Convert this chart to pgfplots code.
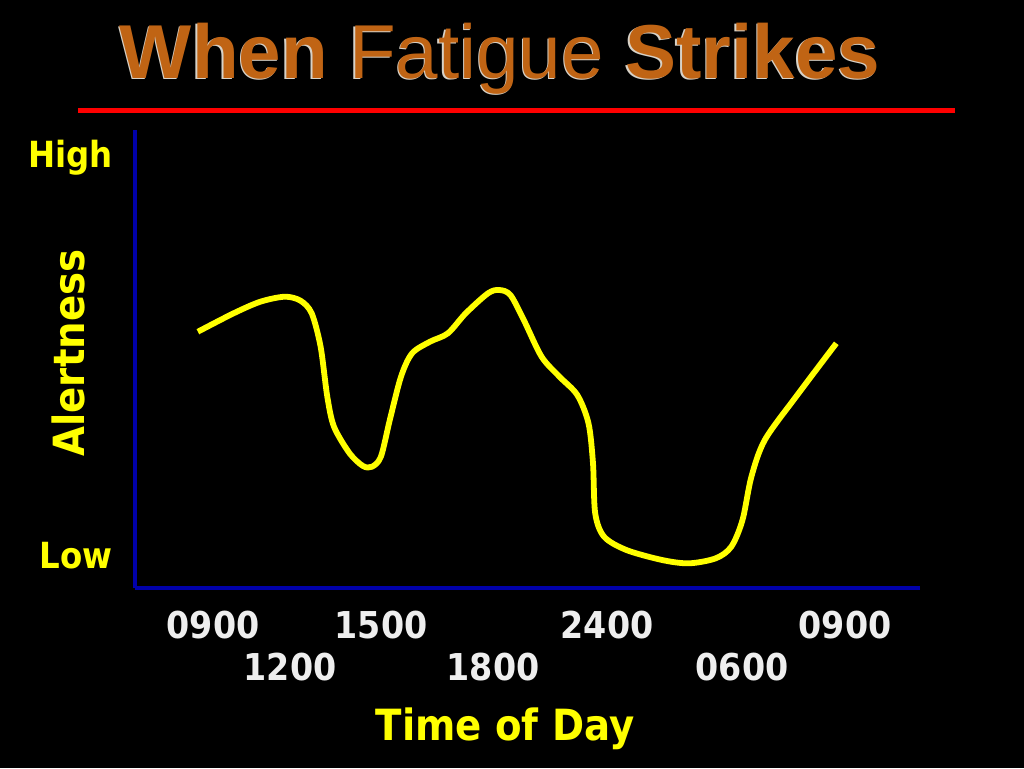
\documentclass[border=0pt]{standalone}
\usepackage{pgfplots}
\pgfplotsset{compat=1.18}
\usepackage{fontspec}
\setmainfont{DejaVu Sans Condensed}
\newfontfamily\titlefont{Liberation Sans}
\definecolor{titleor}{RGB}{192,100,20}
\definecolor{titleshadow}{RGB}{215,210,200}
\definecolor{axblue}{RGB}{0,0,170}
\definecolor{ylw}{RGB}{255,255,0}
\definecolor{ticklab}{RGB}{238,238,238}
\begin{document}
\begin{tikzpicture}
\fill[black] (0,0) rectangle (512pt,-384pt);
% title
\node[anchor=base, inner sep=0pt, text=titleshadow] at (249.3pt,-39.7pt) {\titlefont\fontsize{38.2}{40}\selectfont\bfseries When \mdseries Fatigue \bfseries Strikes};
\node[anchor=base, inner sep=0pt, text=titleor] at (250pt,-39pt) {\titlefont\fontsize{38.2}{40}\selectfont\bfseries When \mdseries Fatigue \bfseries Strikes};
\draw[red, line width=2.5pt] (39pt,-55pt) -- (477.5pt,-55pt);
\begin{axis}[
  at={(67.5pt,-294pt)}, anchor=south west,
  scale only axis, width=392.5pt, height=229pt,
  xmin=135, xmax=920, ymin=0, ymax=458,
  axis x line=bottom, axis y line=left,
  axis line style={axblue, line width=2pt, -},
  ytick=\empty,
  xtick={213,381,607,845},
  xticklabels={0900,1500,2400,0900},
  extra x ticks={290,493,742},
  extra x tick labels={1200,1800,0600},
  extra x tick style={tick label style={yshift=-21pt}},
  major tick length=0pt,
  tick style={draw=none},
  xticklabel style={font=\fontsize{18.5}{20}\selectfont\bfseries, text=ticklab, anchor=center, yshift=-18.5pt},
  clip=false,
]
\addplot[ylw, line width=2.9pt, smooth, tension=0.5] coordinates {
(197.9,256.3) (233.6,274.7) (260.4,286.3) (284.9,291.3) (300.5,287.3) (311.7,274.7) (320.6,241.3) (327.3,191.3) (334,161.3) (349.6,134.7) (363,122) (372,121.3) (380.9,131.3) (389.8,168) (401,211.3) (412.1,234.7) (430,246.3) (447.9,254.7) (465.7,274.7) (488,294.7) (499.2,298) (510.4,293) (523.8,268) (541.6,231.3) (559.5,211.3) (577.3,193) (588.5,164.7) (593,124.7) (595.2,74.7) (604.1,51.3) (626.4,38) (662.1,28) (689,24.7) (715.7,29.7) (731.3,41.3) (742.5,68) (751.4,111.3) (764.8,148) (796,191.3) (836.3,244.7)
};
\end{axis}
\node[anchor=base east, inner sep=0pt, text=ylw, font=\fontsize{18}{20}\selectfont\bfseries] at (56.5pt,-83.5pt) {High};
\node[anchor=base east, inner sep=0pt, text=ylw, font=\fontsize{18}{20}\selectfont\bfseries] at (56.5pt,-284pt) {Low};
\node[rotate=90, inner sep=0pt, text=ylw, font=\fontsize{21.5}{24}\selectfont\bfseries] at (34pt,-176.5pt) {Alertness};
\node[anchor=base, inner sep=0pt, text=ylw, font=\fontsize{21.5}{24}\selectfont\bfseries] at (252.5pt,-370pt) {Time of Day};
\end{tikzpicture}
\end{document}
